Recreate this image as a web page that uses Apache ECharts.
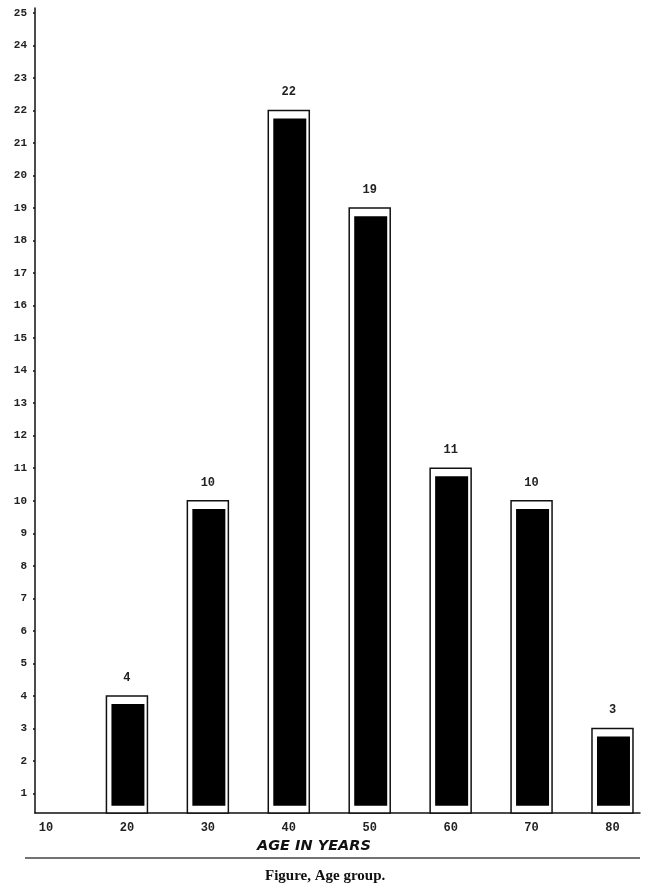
<!DOCTYPE html>
<html>
<head>
<meta charset="utf-8">
<script src="https://cdn.jsdelivr.net/npm/echarts@6/dist/echarts.min.js"></script>
<style>
html,body{margin:0;padding:0;background:#fff;}
#chart{width:650px;height:892px;}
</style>
</head>
<body>
<div id="chart"></div>
<script>
const ageGroups = [20, 30, 40, 50, 60, 70, 80];
const counts = [4, 10, 22, 19, 11, 10, 3];
const xTickValues = [10, 20, 30, 40, 50, 60, 70, 80];
const yTickValues = [1,2,3,4,5,6,7,8,9,10,11,12,13,14,15,16,17,18,19,20,21,22,23,24,25];
const xAxisTitle = 'AGE IN YEARS';
const caption = 'Figure, Age group.';

const Y_MIN = 0.4;
const chart = echarts.init(document.getElementById('chart'), null, {renderer: 'canvas'});
const tickFont = {fontFamily: 'Liberation Mono', fontWeight: 'bold', fontSize: 12, color: '#222'};

chart.setOption({
  backgroundColor: '#fff',
  animation: false,
  grid: {left: 35, right: 10, top: 8, bottom: 79},
  xAxis: {
    type: 'value', min: 8.64, max: 83.4,
    splitLine: {show: false},
    axisLine: {show: true, lineStyle: {color: '#111', width: 1.5}},
    axisTick: {show: false},
    axisLabel: Object.assign({customValues: xTickValues, margin: 9, hideOverlap: false}, tickFont)
  },
  yAxis: {
    type: 'value', min: Y_MIN, max: 25.15,
    splitLine: {show: false},
    axisLine: {show: true, lineStyle: {color: '#111', width: 1.5}},
    axisTick: {show: true, customValues: yTickValues, length: 2, lineStyle: {color: '#111', width: 1.5}},
    axisLabel: Object.assign({customValues: yTickValues, margin: 8}, tickFont, {fontSize: 11})
  },
  series: [{
    type: 'custom',
    data: ageGroups.map((a, i) => [a, counts[i]]),
    renderItem: function (params, api) {
      const x = api.value(0), v = api.value(1);
      const top = api.coord([x, v]);
      const base = api.coord([x, Y_MIN]);
      const innerTop = api.coord([x, v - 0.25]);
      const innerBot = api.coord([x, 0.62]);
      return {
        type: 'group',
        children: [
          {type: 'rect', shape: {x: top[0] - 20.5, y: top[1], width: 41, height: base[1] - top[1]},
           style: {fill: '#fff', stroke: '#111', lineWidth: 1.5}},
          {type: 'rect', shape: {x: top[0] - 15.5, y: innerTop[1], width: 33, height: innerBot[1] - innerTop[1]},
           style: {fill: '#000'}},
          {type: 'text', x: top[0], y: top[1] - 18,
           style: {text: String(v), align: 'center', verticalAlign: 'middle',
                   font: 'bold 12px "Liberation Mono"', fill: '#222'}}
        ]
      };
    }
  }],
  graphic: [
    {type: 'text', left: 257, top: 839,
     style: {text: xAxisTitle, font: 'italic bold 14.5px "DejaVu Sans"', fill: '#111'}},
    {type: 'line', shape: {x1: 25, y1: 858, x2: 640, y2: 858}, style: {stroke: '#444', lineWidth: 1.5}},
    {type: 'text', left: 265, top: 869,
     style: {text: caption, font: 'bold 15px "Liberation Serif"', fill: '#111'}}
  ]
});
</script>
</body>
</html>
